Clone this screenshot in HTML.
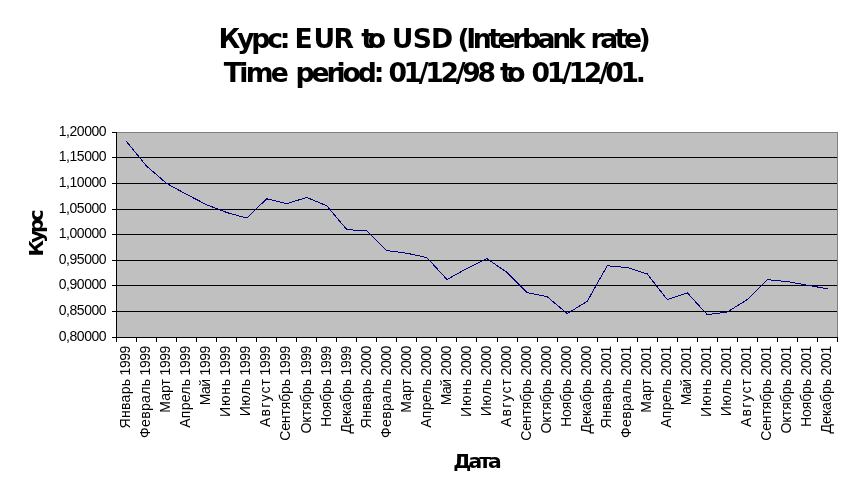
<!DOCTYPE html>
<html lang="ru">
<head>
<meta charset="utf-8">
<title>Курс: EUR to USD (Interbank rate)</title>
<style>
html,body{margin:0;padding:0;background:#fff;}
body{width:868px;height:499px;overflow:hidden;}
svg{display:block;}
.t{font-family:"DejaVu Sans","Liberation Sans",sans-serif;font-weight:bold;fill:#000;}
.a{font-family:"Liberation Sans","DejaVu Sans",sans-serif;font-size:14px;fill:#000;}
</style>
</head>
<body>
<svg width="868" height="499" viewBox="0 0 868 499">
<rect x="0" y="0" width="868" height="499" fill="#ffffff"/>
<text class="t" y="48" font-size="26.67"><tspan x="218.54" textLength="71.84" lengthAdjust="spacing">Курс:</tspan> <tspan x="294.5 313.5 333.6">EUR</tspan> <tspan x="361.24" textLength="24.81" lengthAdjust="spacing">to</tspan> <tspan x="391.74" textLength="61.48" lengthAdjust="spacing">USD</tspan> <tspan x="457.55" textLength="127.88" lengthAdjust="spacing">(Interbank</tspan> <tspan x="590.56" textLength="60.22" lengthAdjust="spacing">rate)</tspan></text>
<text class="t" y="82" font-size="26.67"><tspan x="223.85" textLength="65.11" lengthAdjust="spacing">Time</tspan> <tspan x="295.56" textLength="88.9" lengthAdjust="spacing">period:</tspan> <tspan x="388.38" textLength="107.58" lengthAdjust="spacing">01/12/98</tspan> <tspan x="499.89" textLength="25.69" lengthAdjust="spacing">to</tspan> <tspan x="531.58" textLength="114.33" lengthAdjust="spacing">01/12/01.</tspan></text>
<g shape-rendering="crispEdges">
<rect x="116" y="132" width="722" height="206" fill="#c0c0c0"/>
<rect x="116" y="132" width="722" height="1" fill="#808080"/>
<rect x="837" y="132" width="1" height="206" fill="#808080"/>
<rect x="116" y="157" width="721" height="1" fill="#000"/>
<rect x="116" y="183" width="721" height="1" fill="#000"/>
<rect x="116" y="209" width="721" height="1" fill="#000"/>
<rect x="116" y="234" width="721" height="1" fill="#000"/>
<rect x="116" y="260" width="721" height="1" fill="#000"/>
<rect x="116" y="285" width="721" height="1" fill="#000"/>
<rect x="116" y="311" width="721" height="1" fill="#000"/>
<rect x="116" y="337" width="721" height="1" fill="#000"/>
<rect x="116" y="132" width="1" height="206" fill="#000"/>
<rect x="112" y="132" width="5" height="1" fill="#000"/>
<rect x="112" y="157" width="5" height="1" fill="#000"/>
<rect x="112" y="183" width="5" height="1" fill="#000"/>
<rect x="112" y="209" width="5" height="1" fill="#000"/>
<rect x="112" y="234" width="5" height="1" fill="#000"/>
<rect x="112" y="260" width="5" height="1" fill="#000"/>
<rect x="112" y="285" width="5" height="1" fill="#000"/>
<rect x="112" y="311" width="5" height="1" fill="#000"/>
<rect x="112" y="337" width="5" height="1" fill="#000"/>
<rect x="116" y="337" width="1" height="5" fill="#000"/>
<rect x="136" y="337" width="1" height="5" fill="#000"/>
<rect x="156" y="337" width="1" height="5" fill="#000"/>
<rect x="176" y="337" width="1" height="5" fill="#000"/>
<rect x="196" y="337" width="1" height="5" fill="#000"/>
<rect x="216" y="337" width="1" height="5" fill="#000"/>
<rect x="236" y="337" width="1" height="5" fill="#000"/>
<rect x="256" y="337" width="1" height="5" fill="#000"/>
<rect x="276" y="337" width="1" height="5" fill="#000"/>
<rect x="296" y="337" width="1" height="5" fill="#000"/>
<rect x="316" y="337" width="1" height="5" fill="#000"/>
<rect x="336" y="337" width="1" height="5" fill="#000"/>
<rect x="356" y="337" width="1" height="5" fill="#000"/>
<rect x="376" y="337" width="1" height="5" fill="#000"/>
<rect x="396" y="337" width="1" height="5" fill="#000"/>
<rect x="416" y="337" width="1" height="5" fill="#000"/>
<rect x="436" y="337" width="1" height="5" fill="#000"/>
<rect x="456" y="337" width="1" height="5" fill="#000"/>
<rect x="476" y="337" width="1" height="5" fill="#000"/>
<rect x="497" y="337" width="1" height="5" fill="#000"/>
<rect x="517" y="337" width="1" height="5" fill="#000"/>
<rect x="537" y="337" width="1" height="5" fill="#000"/>
<rect x="557" y="337" width="1" height="5" fill="#000"/>
<rect x="577" y="337" width="1" height="5" fill="#000"/>
<rect x="597" y="337" width="1" height="5" fill="#000"/>
<rect x="617" y="337" width="1" height="5" fill="#000"/>
<rect x="637" y="337" width="1" height="5" fill="#000"/>
<rect x="657" y="337" width="1" height="5" fill="#000"/>
<rect x="677" y="337" width="1" height="5" fill="#000"/>
<rect x="697" y="337" width="1" height="5" fill="#000"/>
<rect x="717" y="337" width="1" height="5" fill="#000"/>
<rect x="737" y="337" width="1" height="5" fill="#000"/>
<rect x="757" y="337" width="1" height="5" fill="#000"/>
<rect x="777" y="337" width="1" height="5" fill="#000"/>
<rect x="797" y="337" width="1" height="5" fill="#000"/>
<rect x="817" y="337" width="1" height="5" fill="#000"/>
<rect x="837" y="337" width="1" height="5" fill="#000"/>
<polyline points="126.5,141.5 146.5,166.0 166.6,183.4 186.6,194.4 206.6,204.7 226.7,212.5 246.7,218.0 266.7,198.8 286.7,203.6 306.8,197.5 326.8,205.8 346.8,229.6 366.8,231.0 386.9,250.6 406.9,253.2 426.9,257.6 447.0,279.5 467.0,268.4 487.0,258.7 507.0,272.4 527.1,292.6 547.1,296.6 567.1,313.6 587.2,301.4 607.2,265.8 627.2,267.5 647.2,273.9 667.3,299.7 687.3,292.8 707.3,314.7 727.3,312.0 747.4,299.5 767.4,279.7 787.4,281.6 807.5,285.2 827.5,288.8" fill="none" stroke="#000080" stroke-width="1"/>
</g>
<text class="a" transform="translate(106.6,136.4) scale(1,1.03)" text-anchor="end" textLength="47.8" lengthAdjust="spacing">1,20000</text>
<text class="a" transform="translate(106.6,161.4) scale(1,1.03)" text-anchor="end" textLength="47.8" lengthAdjust="spacing">1,15000</text>
<text class="a" transform="translate(106.6,187.4) scale(1,1.03)" text-anchor="end" textLength="47.8" lengthAdjust="spacing">1,10000</text>
<text class="a" transform="translate(106.6,213.4) scale(1,1.03)" text-anchor="end" textLength="47.8" lengthAdjust="spacing">1,05000</text>
<text class="a" transform="translate(106.6,238.4) scale(1,1.03)" text-anchor="end" textLength="47.8" lengthAdjust="spacing">1,00000</text>
<text class="a" transform="translate(106.6,264.4) scale(1,1.03)" text-anchor="end" textLength="47.8" lengthAdjust="spacing">0,95000</text>
<text class="a" transform="translate(106.6,289.4) scale(1,1.03)" text-anchor="end" textLength="47.8" lengthAdjust="spacing">0,90000</text>
<text class="a" transform="translate(106.6,315.4) scale(1,1.03)" text-anchor="end" textLength="47.8" lengthAdjust="spacing">0,85000</text>
<text class="a" transform="translate(106.6,341.4) scale(1,1.03)" text-anchor="end" textLength="47.8" lengthAdjust="spacing">0,80000</text>
<text class="a" transform="translate(130.2,345.8) rotate(-90) scale(1,1.03)"><tspan x="-82.6" textLength="49.4" lengthAdjust="spacing">Январь</tspan> <tspan x="-29.6" textLength="29.6" lengthAdjust="spacing">1999</tspan></text>
<text class="a" transform="translate(150.2,345.8) rotate(-90) scale(1,1.03)"><tspan x="-92.1" textLength="58.9" lengthAdjust="spacing">Февраль</tspan> <tspan x="-29.6" textLength="29.6" lengthAdjust="spacing">1999</tspan></text>
<text class="a" transform="translate(170.3,345.8) rotate(-90) scale(1,1.03)"><tspan x="-67.0" textLength="33.8" lengthAdjust="spacing">Март</tspan> <tspan x="-29.6" textLength="29.6" lengthAdjust="spacing">1999</tspan></text>
<text class="a" transform="translate(190.3,345.8) rotate(-90) scale(1,1.03)"><tspan x="-82.0" textLength="48.8" lengthAdjust="spacing">Апрель</tspan> <tspan x="-29.6" textLength="29.6" lengthAdjust="spacing">1999</tspan></text>
<text class="a" transform="translate(210.3,345.8) rotate(-90) scale(1,1.03)"><tspan x="-59.5" textLength="26.3" lengthAdjust="spacing">Май</tspan> <tspan x="-29.6" textLength="29.6" lengthAdjust="spacing">1999</tspan></text>
<text class="a" transform="translate(230.4,345.8) rotate(-90) scale(1,1.03)"><tspan x="-71.1" textLength="37.9" lengthAdjust="spacing">Июнь</tspan> <tspan x="-29.6" textLength="29.6" lengthAdjust="spacing">1999</tspan></text>
<text class="a" transform="translate(250.4,345.8) rotate(-90) scale(1,1.03)"><tspan x="-70.5" textLength="37.3" lengthAdjust="spacing">Июль</tspan> <tspan x="-29.6" textLength="29.6" lengthAdjust="spacing">1999</tspan></text>
<text class="a" transform="translate(270.4,345.8) rotate(-90) scale(1,1.03)"><tspan x="-81.1" textLength="47.9" lengthAdjust="spacing">Август</tspan> <tspan x="-29.6" textLength="29.6" lengthAdjust="spacing">1999</tspan></text>
<text class="a" transform="translate(290.4,345.8) rotate(-90) scale(1,1.03)"><tspan x="-95.0" textLength="61.8" lengthAdjust="spacing">Сентябрь</tspan> <tspan x="-29.6" textLength="29.6" lengthAdjust="spacing">1999</tspan></text>
<text class="a" transform="translate(310.5,345.8) rotate(-90) scale(1,1.03)"><tspan x="-87.8" textLength="54.6" lengthAdjust="spacing">Октябрь</tspan> <tspan x="-29.6" textLength="29.6" lengthAdjust="spacing">1999</tspan></text>
<text class="a" transform="translate(330.5,345.8) rotate(-90) scale(1,1.03)"><tspan x="-81.1" textLength="47.9" lengthAdjust="spacing">Ноябрь</tspan> <tspan x="-29.6" textLength="29.6" lengthAdjust="spacing">1999</tspan></text>
<text class="a" transform="translate(350.5,345.8) rotate(-90) scale(1,1.03)"><tspan x="-87.8" textLength="54.6" lengthAdjust="spacing">Декабрь</tspan> <tspan x="-29.6" textLength="29.6" lengthAdjust="spacing">1999</tspan></text>
<text class="a" transform="translate(370.5,345.8) rotate(-90) scale(1,1.03)"><tspan x="-82.6" textLength="49.4" lengthAdjust="spacing">Январь</tspan> <tspan x="-29.6" textLength="29.6" lengthAdjust="spacing">2000</tspan></text>
<text class="a" transform="translate(390.6,345.8) rotate(-90) scale(1,1.03)"><tspan x="-92.1" textLength="58.9" lengthAdjust="spacing">Февраль</tspan> <tspan x="-29.6" textLength="29.6" lengthAdjust="spacing">2000</tspan></text>
<text class="a" transform="translate(410.6,345.8) rotate(-90) scale(1,1.03)"><tspan x="-67.0" textLength="33.8" lengthAdjust="spacing">Март</tspan> <tspan x="-29.6" textLength="29.6" lengthAdjust="spacing">2000</tspan></text>
<text class="a" transform="translate(430.6,345.8) rotate(-90) scale(1,1.03)"><tspan x="-82.0" textLength="48.8" lengthAdjust="spacing">Апрель</tspan> <tspan x="-29.6" textLength="29.6" lengthAdjust="spacing">2000</tspan></text>
<text class="a" transform="translate(450.7,345.8) rotate(-90) scale(1,1.03)"><tspan x="-59.5" textLength="26.3" lengthAdjust="spacing">Май</tspan> <tspan x="-29.6" textLength="29.6" lengthAdjust="spacing">2000</tspan></text>
<text class="a" transform="translate(470.7,345.8) rotate(-90) scale(1,1.03)"><tspan x="-71.1" textLength="37.9" lengthAdjust="spacing">Июнь</tspan> <tspan x="-29.6" textLength="29.6" lengthAdjust="spacing">2000</tspan></text>
<text class="a" transform="translate(490.7,345.8) rotate(-90) scale(1,1.03)"><tspan x="-70.5" textLength="37.3" lengthAdjust="spacing">Июль</tspan> <tspan x="-29.6" textLength="29.6" lengthAdjust="spacing">2000</tspan></text>
<text class="a" transform="translate(510.7,345.8) rotate(-90) scale(1,1.03)"><tspan x="-81.1" textLength="47.9" lengthAdjust="spacing">Август</tspan> <tspan x="-29.6" textLength="29.6" lengthAdjust="spacing">2000</tspan></text>
<text class="a" transform="translate(530.8,345.8) rotate(-90) scale(1,1.03)"><tspan x="-95.0" textLength="61.8" lengthAdjust="spacing">Сентябрь</tspan> <tspan x="-29.6" textLength="29.6" lengthAdjust="spacing">2000</tspan></text>
<text class="a" transform="translate(550.8,345.8) rotate(-90) scale(1,1.03)"><tspan x="-87.8" textLength="54.6" lengthAdjust="spacing">Октябрь</tspan> <tspan x="-29.6" textLength="29.6" lengthAdjust="spacing">2000</tspan></text>
<text class="a" transform="translate(570.8,345.8) rotate(-90) scale(1,1.03)"><tspan x="-81.1" textLength="47.9" lengthAdjust="spacing">Ноябрь</tspan> <tspan x="-29.6" textLength="29.6" lengthAdjust="spacing">2000</tspan></text>
<text class="a" transform="translate(590.9,345.8) rotate(-90) scale(1,1.03)"><tspan x="-87.8" textLength="54.6" lengthAdjust="spacing">Декабрь</tspan> <tspan x="-29.6" textLength="29.6" lengthAdjust="spacing">2000</tspan></text>
<text class="a" transform="translate(610.9,345.8) rotate(-90) scale(1,1.03)"><tspan x="-82.6" textLength="49.4" lengthAdjust="spacing">Январь</tspan> <tspan x="-29.6" textLength="29.6" lengthAdjust="spacing">2001</tspan></text>
<text class="a" transform="translate(630.9,345.8) rotate(-90) scale(1,1.03)"><tspan x="-92.1" textLength="58.9" lengthAdjust="spacing">Февраль</tspan> <tspan x="-29.6" textLength="29.6" lengthAdjust="spacing">2001</tspan></text>
<text class="a" transform="translate(650.9,345.8) rotate(-90) scale(1,1.03)"><tspan x="-67.0" textLength="33.8" lengthAdjust="spacing">Март</tspan> <tspan x="-29.6" textLength="29.6" lengthAdjust="spacing">2001</tspan></text>
<text class="a" transform="translate(671.0,345.8) rotate(-90) scale(1,1.03)"><tspan x="-82.0" textLength="48.8" lengthAdjust="spacing">Апрель</tspan> <tspan x="-29.6" textLength="29.6" lengthAdjust="spacing">2001</tspan></text>
<text class="a" transform="translate(691.0,345.8) rotate(-90) scale(1,1.03)"><tspan x="-59.5" textLength="26.3" lengthAdjust="spacing">Май</tspan> <tspan x="-29.6" textLength="29.6" lengthAdjust="spacing">2001</tspan></text>
<text class="a" transform="translate(711.0,345.8) rotate(-90) scale(1,1.03)"><tspan x="-71.1" textLength="37.9" lengthAdjust="spacing">Июнь</tspan> <tspan x="-29.6" textLength="29.6" lengthAdjust="spacing">2001</tspan></text>
<text class="a" transform="translate(731.0,345.8) rotate(-90) scale(1,1.03)"><tspan x="-70.5" textLength="37.3" lengthAdjust="spacing">Июль</tspan> <tspan x="-29.6" textLength="29.6" lengthAdjust="spacing">2001</tspan></text>
<text class="a" transform="translate(751.1,345.8) rotate(-90) scale(1,1.03)"><tspan x="-81.1" textLength="47.9" lengthAdjust="spacing">Август</tspan> <tspan x="-29.6" textLength="29.6" lengthAdjust="spacing">2001</tspan></text>
<text class="a" transform="translate(771.1,345.8) rotate(-90) scale(1,1.03)"><tspan x="-95.0" textLength="61.8" lengthAdjust="spacing">Сентябрь</tspan> <tspan x="-29.6" textLength="29.6" lengthAdjust="spacing">2001</tspan></text>
<text class="a" transform="translate(791.1,345.8) rotate(-90) scale(1,1.03)"><tspan x="-87.8" textLength="54.6" lengthAdjust="spacing">Октябрь</tspan> <tspan x="-29.6" textLength="29.6" lengthAdjust="spacing">2001</tspan></text>
<text class="a" transform="translate(811.2,345.8) rotate(-90) scale(1,1.03)"><tspan x="-81.1" textLength="47.9" lengthAdjust="spacing">Ноябрь</tspan> <tspan x="-29.6" textLength="29.6" lengthAdjust="spacing">2001</tspan></text>
<text class="a" transform="translate(831.2,345.8) rotate(-90) scale(1,1.03)"><tspan x="-87.8" textLength="54.6" lengthAdjust="spacing">Декабрь</tspan> <tspan x="-29.6" textLength="29.6" lengthAdjust="spacing">2001</tspan></text>
<text class="t" x="453.29" y="467.6" font-size="20.3" textLength="48.4" lengthAdjust="spacing">Дата</text>
<text class="t" transform="translate(43.0,254.5) rotate(-90)" x="-2.00" y="0" font-size="20.3" textLength="47.02" lengthAdjust="spacing">Курс</text>
</svg>
</body>
</html>
